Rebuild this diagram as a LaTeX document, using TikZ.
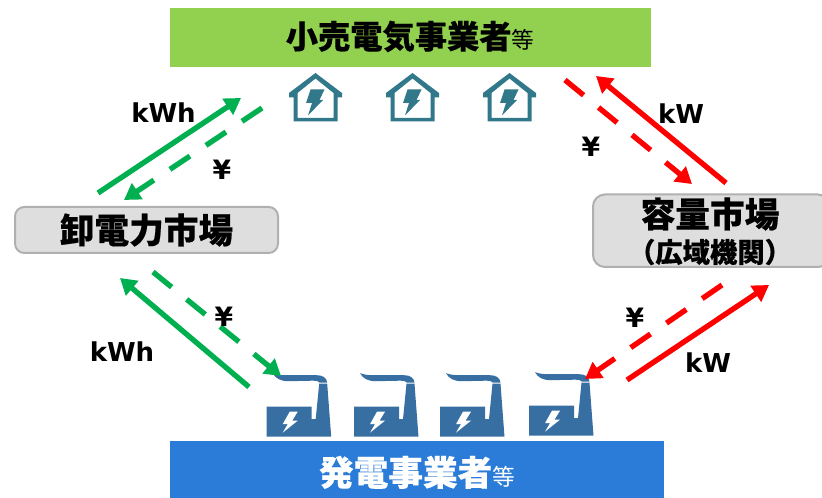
\documentclass[tikz,border=0pt]{standalone}
\usepackage{fontspec}
\setmainfont{DejaVu Sans}
\newfontfamily\cjk[BoldFeatures={FakeBold=0.4}]{Noto Sans CJK JP}
\usetikzlibrary{arrows.meta}
\definecolor{topgreen}{HTML}{92D050}
\definecolor{botblue}{HTML}{2B7CD8}
\definecolor{arrgreen}{HTML}{00B050}
\definecolor{houseteal}{HTML}{31788A}
\definecolor{factblue}{HTML}{376FA3}
\definecolor{boxfill}{HTML}{DEDEDE}
\definecolor{boxline}{HTML}{B0B0B0}
\tikzset{
  x=0.75pt,y=-0.75pt,
  banner/.style={inner sep=0pt,outer sep=0pt,minimum height=44.25pt,font=\cjk\bfseries},
  market/.style={draw=boxline,line width=1.5pt,fill=boxfill,rounded corners=7pt,inner sep=0pt,outer sep=0pt,align=center,font=\cjk\bfseries,text=black},
  solidarrow/.style={line width=4pt,-{Triangle[length=12pt,width=14pt]}},
  dasharrow/.style={solidarrow,dash pattern=on 18pt off 14.5pt},
  unit/.style={font=\bfseries\fontsize{19.5}{22}\selectfont,inner sep=0pt},
  yen/.style={font=\bfseries\fontsize{20}{22}\selectfont,inner sep=0pt},
  house/.pic={
    \fill[houseteal,even odd rule]
      (0,-21) -- (26.5,-1) -- (26.5,3.5) -- (22,3.5) -- (22,27.5) -- (-22,27.5) -- (-22,3.5) -- (-26.5,3.5) -- (-26.5,-1) -- cycle
      (0,-15.5) -- (-18,-1) -- (-18,24) -- (18,24) -- (18,-1) -- cycle;
    \fill[houseteal] (-5,-4.5) -- (9,-4.5) -- (4,6) -- (7.5,6) -- (-7.5,21.5) -- (-3.5,9) -- (-9.5,9) -- cycle;
  },
  factory/.pic={
    \fill[factblue] (0,0) -- (45,0) -- (45,12.5) -- (49,12.5) -- (52.5,-23) -- (60.5,-23) -- (64.5,30) -- (0,30) -- cycle;
    \fill[white] (23,5) -- (31,5) -- (25.5,14) -- (31,14) -- (16,26) -- (21,17.5) -- (16,17.5) -- cycle;
    \fill[factblue] (6,-33.5) .. controls (10,-32) and (14,-31.5) .. (20,-31.5) -- (50,-31.5) .. controls (56,-31.5) and (60,-29) .. (60.5,-24) -- (53,-24) .. controls (52,-25.5) and (50,-26) .. (46,-26) -- (22,-25.5) .. controls (14,-25.5) and (9,-28) .. (6,-33.5) -- cycle;
  },
}
\begin{document}
\begin{tikzpicture}
\useasboundingbox (0,0) rectangle (822,498);
\fill[white] (0,0) rectangle (822,498);

\node[banner,fill=topgreen,minimum width=360.75pt,anchor=north west] (retail) at (170,8) {};
\node[inner sep=0pt,anchor=base,font=\cjk\bfseries\fontsize{24.2}{28}\selectfont] (retailtext) at (410,48.5) {小売電気事業者{\fontsize{17}{20}\mdseries\selectfont 等}};
\node[banner,fill=botblue,minimum width=370.5pt,minimum height=42.75pt,anchor=north west] (gen) at (170,441) {};
\node[inner sep=0pt,anchor=base,text=white,font=\cjk\bfseries\fontsize{26}{30}\selectfont] (gentext) at (417,485.5) {発電事業者{\fontsize{17}{20}\mdseries\selectfont 等}};

\node[market,minimum width=197.25pt,minimum height=34.5pt,font=\cjk\bfseries\fontsize{26}{30}\selectfont] (spot) at (146.5,230) {卸電力市場};
\draw[boxline,line width=1.5pt,fill=boxfill,rounded corners=9pt] (593,194.5) -- (593,267) -- (830,267) -- (830,194.5) -- cycle;
\node[inner sep=0pt,font=\cjk\bfseries\fontsize{26}{30}\selectfont] (cap1) at (710,214) {容量市場};
\node[inner sep=0pt,font=\cjk\bfseries\fontsize{20.5}{24}\selectfont] (cap2) at (710,252) {（広域機関）};

\foreach \hx/\hn in {315.5/h1,412.5/h2,509.5/h3}
  \pic (\hn) at (\hx,94) {house};
\foreach \fx/\fy/\fn in {266.7/406.7/f1,354/406.7/f2,440/406.7/f3,529/405.7/f4}
  \pic (\fn) at (\fx,\fy) {factory};

\coordinate (a1s) at (98,193);   \coordinate (a1e) at (241,98);
\coordinate (a2s) at (262,108);  \coordinate (a2e) at (124,200);
\coordinate (a3s) at (249,387);  \coordinate (a3e) at (120,278);
\coordinate (a4s) at (153,272);  \coordinate (a4e) at (281,376);
\coordinate (a5s) at (726,183);  \coordinate (a5e) at (596,76);
\coordinate (a6s) at (565,80);   \coordinate (a6e) at (692,184);
\coordinate (a7s) at (627,380);  \coordinate (a7e) at (769,285);
\coordinate (a8s) at (722,285);  \coordinate (a8e) at (585,379);

\draw[solidarrow,arrgreen] (a1s) -- (a1e);
\draw[dasharrow,arrgreen] (a2s) -- (a2e);
\draw[solidarrow,arrgreen] (a3s) -- (a3e);
\draw[dasharrow,arrgreen] (a4s) -- (a4e);
\draw[solidarrow,red] (a5s) -- (a5e);
\draw[dasharrow,red] (a6s) -- (a6e);
\draw[solidarrow,red] (a7s) -- (a7e);
\draw[dasharrow,red] (a8s) -- (a8e);

\node[unit] (l1) at (163.5,113) {kWh};
\node[yen] (y1) at (222,170) {¥};
\node[unit] (l2) at (122,352) {kWh};
\node[yen] (y2) at (224,317) {¥};
\node[unit] (l3) at (681,114) {kW};
\node[yen] (y3) at (591,147) {¥};
\node[yen] (y4) at (635,318) {¥};
\node[unit] (l4) at (708,363) {kW};
\end{tikzpicture}
\end{document}
